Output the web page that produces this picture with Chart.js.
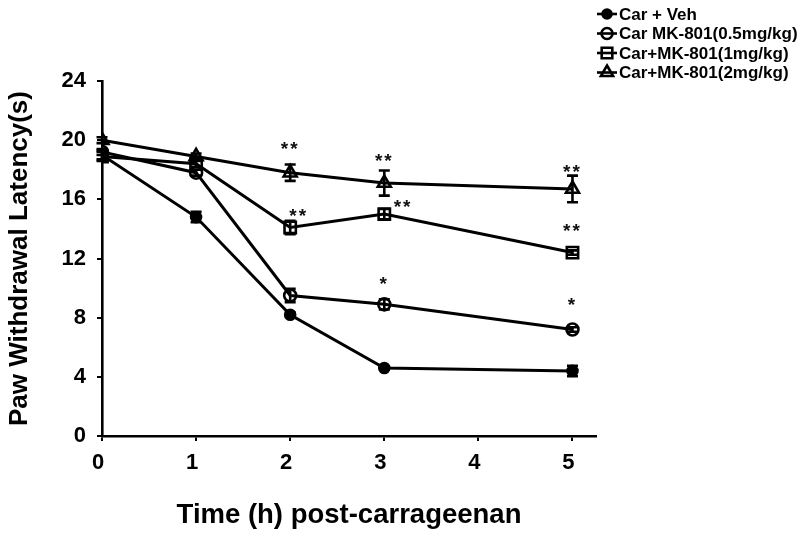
<!DOCTYPE html>
<html>
<head>
<meta charset="utf-8">
<script src="https://cdn.jsdelivr.net/npm/chart.js@4.4.1/dist/chart.umd.min.js"></script>
<style>
  html, body { margin: 0; padding: 0; background: #fff; }
  #wrap { width: 800px; height: 536px; position: relative; }
</style>
</head>
<body>
<div id="wrap"><canvas id="chart" width="800" height="536"></canvas></div>
<script>
// time points (h) and group means / SEM
const hours = [0, 1, 2, 3, 5];
const labels = ['Car + Veh', 'Car MK-801(0.5mg/kg)', 'Car+MK-801(1mg/kg)', 'Car+MK-801(2mg/kg)'];

const vehMean = [19.0, 14.8, 8.2, 4.6, 4.4];
const mk05Mean = [19.2, 17.8, 9.5, 8.9, 7.2];
const mk1Mean = [18.9, 18.4, 14.1, 15.0, 12.4];
const mk2Mean = [20.0, 18.9, 17.8, 17.1, 16.7];

const vehErr = [0.3, 0.35, 0.15, 0.1, 0.35];
const mk05Err = [0.2, 0.2, 0.45, 0.35, 0.15];
const mk1Err = [0.3, 0.2, 0.45, 0.35, 0.15];
const mk2Err = [0.2, 0.2, 0.55, 0.85, 0.9];

// significance marks (x in h, y in s)
const starX = [2, 3, 5, 2.09, 3.2, 5, 3, 5];
const starY = [19.6, 18.8, 18.1, 15.1, 15.7, 14.05, 10.5, 9.1];
const starText = ['**', '**', '**', '**', '**', '**', '*', '*'];

const xTicks = [0, 1, 2, 3, 4, 5];
const yTicks = [0, 4, 8, 12, 16, 20, 24];

const FONT = "'Liberation Sans', Arial, sans-serif";

const pointStyles = ['circle', 'circle', 'rect', 'triangle'];
const pointRadii = [5, 6, 8, 7.5];
const pointFills = ['#000', 'rgba(0,0,0,0)', 'rgba(0,0,0,0)', 'rgba(0,0,0,0)'];
const means = [vehMean, mk05Mean, mk1Mean, mk2Mean];
const errs = [vehErr, mk05Err, mk1Err, mk2Err];

const datasets = means.map((m, i) => ({
    label: labels[i],
    data: hours.map((h, j) => ({ x: h, y: m[j] })),
    borderColor: '#000',
    borderWidth: 3,
    pointStyle: pointStyles[i],
    pointRadius: pointRadii[i],
    pointBorderWidth: 2.6,
    pointBorderColor: '#000',
    pointBackgroundColor: pointFills[i],
    tension: 0,
    fill: false
}));

// error bars, stars, legend and x title drawn with the chart's own scales
const extrasPlugin = {
    id: 'extras',
    beforeDatasetsDraw(chart) {
        const { ctx, scales: { x, y } } = chart;
        ctx.save();
        ctx.strokeStyle = '#000';
        ctx.lineWidth = 2.6;
        errs.forEach((e, i) => {
            hours.forEach((h, j) => {
                const px = x.getPixelForValue(h);
                const top = y.getPixelForValue(means[i][j] + e[j]);
                const bot = y.getPixelForValue(means[i][j] - e[j]);
                ctx.beginPath();
                ctx.moveTo(px, top); ctx.lineTo(px, bot);
                ctx.moveTo(px - 5.5, top); ctx.lineTo(px + 5.5, top);
                ctx.moveTo(px - 5.5, bot); ctx.lineTo(px + 5.5, bot);
                ctx.stroke();
            });
        });
        ctx.restore();
    },
    afterDraw(chart) {
        const { ctx, chartArea, scales: { x, y } } = chart;
        ctx.save();
        ctx.fillStyle = '#111';
        ctx.font = 'bold 19px ' + FONT;
        ctx.textAlign = 'center';
        ctx.textBaseline = 'middle';
        ctx.letterSpacing = '2px';
        starText.forEach((t, k) => {
            ctx.fillText(t, x.getPixelForValue(starX[k]), y.getPixelForValue(starY[k]) + 4);
        });
        ctx.letterSpacing = '0px';

        // legend
        ctx.textAlign = 'left';
        ctx.font = 'bold 17px ' + FONT;
        labels.forEach((lab, i) => {
            const ly = 14 + i * 19.5;
            ctx.strokeStyle = '#000';
            ctx.lineWidth = 2.6;
            ctx.beginPath();
            ctx.moveTo(597, ly); ctx.lineTo(617, ly);
            ctx.stroke();
            ctx.fillStyle = pointFills[i];
            Chart.helpers.drawPoint(ctx, {
                pointStyle: pointStyles[i], radius: pointRadii[i] - 0.5, rotation: 0, borderWidth: 2.6
            }, 607, ly);
            ctx.fillStyle = '#000';
            ctx.fillText(lab, 619, ly + 1);
        });

        // x axis title
        ctx.textAlign = 'center';
        ctx.font = 'bold 27.5px ' + FONT;
        ctx.fillText('Time (h) post-carrageenan', (chartArea.left + chartArea.right) / 2, 515);
        ctx.restore();
    }
};

new Chart(document.getElementById('chart'), {
    type: 'line',
    data: { datasets },
    options: {
        responsive: false,
        animation: false,
        events: [],
        layout: { padding: { left: 0, right: 204, top: 81, bottom: 0 } },
        plugins: { legend: { display: false }, tooltip: { enabled: false } },
        scales: {
            x: {
                type: 'linear',
                min: 0, max: 5.25,
                afterFit: (s) => { s.height = 100; },
                border: { display: true, color: '#000', width: 2.6 },
                grid: { drawOnChartArea: false, drawTicks: true, tickLength: 5, color: '#000', lineWidth: 2 },
                afterBuildTicks: (s) => { s.ticks = xTicks.map(v => ({ value: v })); },
                ticks: { color: '#000', font: { family: FONT, size: 22, weight: 'bold' }, padding: 9, labelOffset: -4 }
            },
            y: {
                min: 0, max: 24,
                afterFit: (s) => { s.width = 102; },
                border: { display: true, color: '#000', width: 2.6 },
                grid: { drawOnChartArea: false, drawTicks: true, tickLength: 5, color: '#000', lineWidth: 2 },
                afterBuildTicks: (s) => { s.ticks = yTicks.map(v => ({ value: v })); },
                ticks: { color: '#000', font: { family: FONT, size: 22, weight: 'bold' }, padding: 11 },
                title: {
                    display: true, text: 'Paw Withdrawal Latency(s)', color: '#000',
                    font: { family: FONT, size: 26, weight: 'bold' }, padding: { top: 4, bottom: 4 }
                }
            }
        }
    },
    plugins: [extrasPlugin]
});
</script>
</body>
</html>
